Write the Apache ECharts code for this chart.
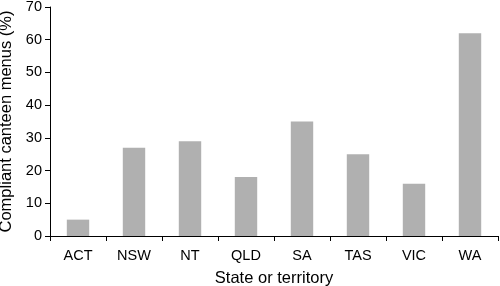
<!DOCTYPE html>
<html>
<head>
<meta charset="utf-8">
<script src="https://cdn.jsdelivr.net/npm/echarts@6/dist/echarts.min.js"></script>
<style>
  html, body { margin: 0; padding: 0; background: #fff; }
  #chart { width: 500px; height: 286px; }
</style>
</head>
<body>
<div id="chart"></div>
<script>
const states = ['ACT', 'NSW', 'NT', 'QLD', 'SA', 'TAS', 'VIC', 'WA']
const compliant = [5, 27, 29, 18, 35, 25, 16, 62]
const yTicks = { min: 0, max: 70, interval: 10 }

const font = 'Liberation Sans, Arial, Helvetica, sans-serif'

const chart = echarts.init(document.getElementById('chart'))
chart.setOption({
  animation: false,
  grid: {
    left: 50,
    right: 2,
    top: 7,
    bottom: 50,
    outerBoundsMode: 'none'
  },
  xAxis: {
    type: 'category',
    data: states,
    name: 'State or territory',
    nameLocation: 'middle',
    nameGap: 34,
    nameTextStyle: { color: '#000', fontSize: 16.5, fontFamily: font },
    axisLine: { lineStyle: { color: '#000', width: 1 } },
    axisTick: { show: true, length: 5, lineStyle: { color: '#000' } },
    axisLabel: { color: '#000', fontSize: 14.5, fontFamily: font, margin: 12 }
  },
  yAxis: {
    type: 'value',
    min: yTicks.min,
    max: yTicks.max,
    interval: yTicks.interval,
    name: 'Compliant canteen menus (%)',
    nameLocation: 'middle',
    nameGap: 25,
    nameTextStyle: { color: '#000', fontSize: 16.5, fontFamily: font },
    splitLine: { show: false },
    axisLine: { show: true, lineStyle: { color: '#000', width: 1 } },
    axisTick: { show: true, length: 5, lineStyle: { color: '#000' } },
    axisLabel: { color: '#000', fontSize: 14.5, fontFamily: font, margin: 8 }
  },
  series: [
    {
      type: 'bar',
      data: compliant,
      barWidth: '40%',
      itemStyle: { color: '#b0b0b0' }
    }
  ]
})
</script>
</body>
</html>
